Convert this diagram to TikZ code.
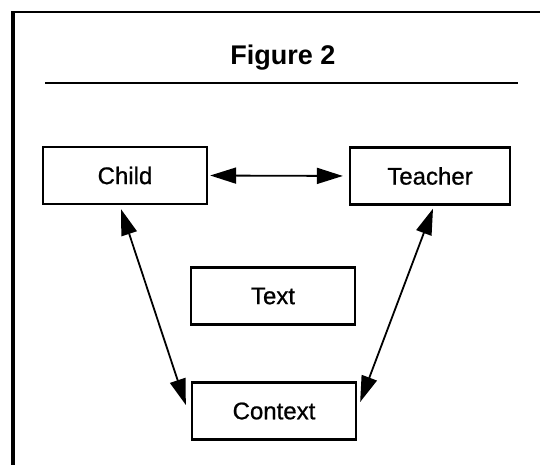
\documentclass[tikz,border=0pt]{standalone}
\usepackage{fontspec}
\setmainfont{Liberation Sans}
\newfontfamily\labelfont{Liberation Sans}[FakeBold=0.8]
\usetikzlibrary{arrows.meta,calc}

\tikzset{
  box/.style={draw, line width=2.3pt, minimum width=164pt, minimum height=57pt,
              inner sep=0pt, font=\labelfont\fontsize{24}{28}\selectfont},
  link/.style={line width=1.8pt,
               {Triangle[length=26pt,width=16pt]}-{Triangle[length=26pt,width=16pt]}},
  frame/.style={line width=3.2pt},
}

\begin{document}
\begin{tikzpicture}[x=1pt,y=-1pt]
  \useasboundingbox (0,0) rectangle (540,465);

  % open frame: left side and top edge
  \draw[frame] (13,465) -- (13,12);
  \draw[line width=2.4pt] (11.4,12) -- (540,12);

  % heading and rule beneath it
  \node[anchor=base, font=\bfseries\fontsize{27}{32}\selectfont] (title) at (283,65) {Figure 2};
  \draw[line width=1.8pt] (45,83) -- (518,83);

  % the four boxes
  \node[box] (child)   at (125,175.5) {Child};
  \node[box, minimum width=160pt] (teacher) at (430,176) {Teacher};
  \node[box] (text)    at (273,296)   {Text};
  \node[box] (context) at (274,411)   {Context};

  % two-way links
  \draw[link, shorten <=2pt, shorten >=6pt] (child.east) -- (teacher.west);
  \draw[link] ($(child.south)+(-4,4)$) -- ($(context.west)+(-5,-6)$);
  \draw[link] ($(teacher.south)+(3,3)$) -- ($(context.east)+(3,-9)$);
\end{tikzpicture}
\end{document}
